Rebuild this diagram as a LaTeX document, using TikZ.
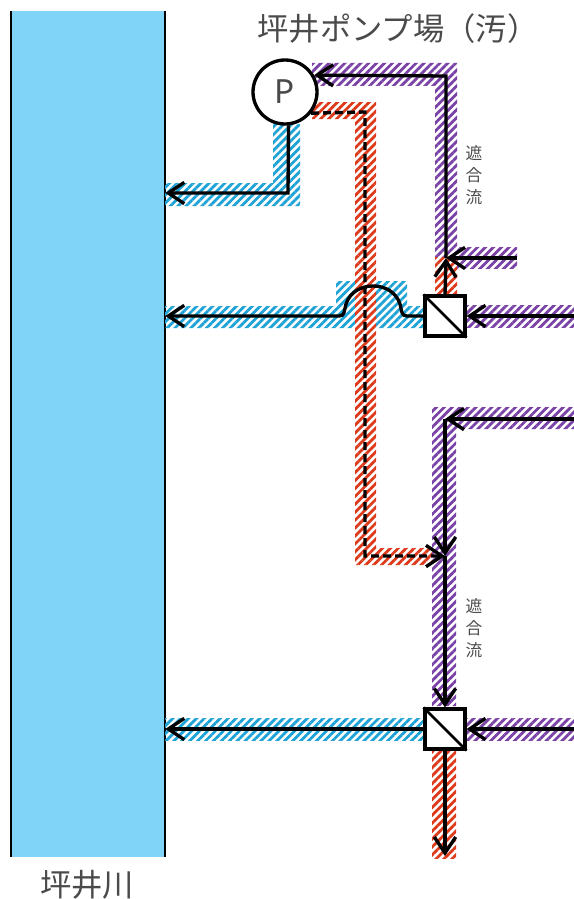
\documentclass[tikz,border=0pt]{standalone}
\usepackage{fontspec}
\setmainfont{Noto Sans}
\newfontfamily\jpfont{Noto Sans CJK JP}
\usetikzlibrary{arrows.meta,positioning,patterns.meta}
\definecolor{riverblue}{HTML}{7FD4F7}
\definecolor{cleanblue}{HTML}{1FA3D6}
\definecolor{sewpurple}{HTML}{7A42A6}
\definecolor{mixred}{HTML}{DD3A1C}
\definecolor{labelgrey}{HTML}{4A4A4A}
\tikzset{
  hatchband/.style={draw=none, pattern={Lines[angle=45,distance=4.2pt,line width=2.1pt]}},
  blueband/.style={hatchband, pattern color=cleanblue},
  purpleband/.style={hatchband, pattern color=sewpurple},
  redband/.style={hatchband, pattern color=mixred},
  pipe/.style={line width=2.5pt, draw=black, line join=miter},
  arr/.style={pipe, -{Straight Barb[length=12pt,width=16pt,line width=2.5pt]}},
  dasharr/.style={arr, dash pattern=on 6pt off 3pt},
  pumpnode/.style={circle, draw, line width=2.5pt, fill=white, minimum size=48pt, inner sep=0pt,
    font=\fontsize{25}{25}\selectfont, text=labelgrey},
  valvebox/.style={rectangle, draw, line width=2.8pt, fill=white, minimum size=29.5pt, inner sep=0pt},
  biglabel/.style={font=\jpfont\fontsize{23.5}{26}\selectfont, text=labelgrey, inner sep=0pt},
  smalllabel/.style={font=\jpfont\fontsize{12.5}{16.3}\selectfont, text=labelgrey, align=center, inner sep=0pt}
}
\begin{document}
\begin{tikzpicture}[x=0.75pt,y=-0.75pt]
    \useasboundingbox (0,0) rectangle (574,899);
    % river
    \node[fill=riverblue, minimum width=115.5pt, minimum height=634.5pt, inner sep=0pt] (river) at (88,434) {};
    \draw[line width=1.2pt] (river.north west) -- (river.south west);
    \draw[line width=1.2pt] (river.north east) -- (river.south east);
    \node[biglabel] (riverlabel) at (87,885) {坪井川};
    \node[biglabel] (pumplabel) at (398,29) {坪井ポンプ場（汚）};
    \node[smalllabel] (goryu1) at (474,175) {遮\\合\\流};
    \node[smalllabel] (goryu2) at (474,628) {遮\\合\\流};
    % hatched bands
    \fill[blueband] (165,183) -- (273,183) -- (273,124) -- (300,124) -- (300,206) -- (165,206) -- cycle;
    \fill[blueband] (165,306) -- (336,306) -- (336,281) -- (407,281) -- (407,306) -- (425,306) -- (425,328) -- (165,328) -- cycle;
    \fill[blueband] (165,718) rectangle (425,740);
    \fill[purpleband] (312,63) -- (457,63) -- (457,257) -- (435,257) -- (435,86) -- (312,86) -- cycle;
    \fill[purpleband] (457,247) rectangle (517,268);
    \fill[purpleband] (467,305) rectangle (574,327);
    \fill[purpleband] (574,407) -- (432,407) -- (432,706) -- (456,706) -- (456,429) -- (574,429) -- cycle;
    \fill[purpleband] (467,718) rectangle (574,740);
    \fill[white] (355,281) rectangle (376,328);
    \fill[redband] (312,102) -- (376,102) -- (376,548) -- (432,548) -- (432,565) -- (355,565) -- (355,119) -- (312,119) -- cycle;
    \fill[redband] (435,257) rectangle (457,296);
    \fill[redband] (432,751) rectangle (456,858);
    % pump and valves
    \node[pumpnode] (pump) at (285,92) {P};
    \node[valvebox] (valvetop) at (445,316) {};
    \node[valvebox] (valvelow) at (445,729) {};
    \draw[line width=2pt] (valvetop.north west) -- (valvetop.south east);
    \draw[line width=2pt] (valvelow.north west) -- (valvelow.south east);
    % free ends
    \coordinate (stub) at (517,258);
    \coordinate (joinup) at (446,258);
    \coordinate (eastA) at (574,316);
    \coordinate (eastB) at (574,419);
    \coordinate (eastC) at (574,729);
    \coordinate (cornerB) at (445,419);
    \coordinate (joinlow) at (445,556);
    \coordinate (drain) at (445,856);
    % connectors
    \draw[arr] (pump.-84) -- (288,193) -- (river.east |- 0,193);
    \draw[arr] (valvetop.west) -- (407,316) .. controls (401,316) and (402,311) .. (400,304)
      .. controls (396,292) and (385,286) .. (373,286) .. controls (361,286) and (350,292) .. (346,304)
      .. controls (344,311) and (345,316) .. (339,316) -- (river.east |- 0,316);
    \draw[arr] (valvelow.west) -- (river.east |- valvelow);
    \draw[arr] (joinup) -- (446,76) -- (pump.30);
    \draw[arr] (stub) -- (joinup);
    \draw[arr] (valvetop.north) -- (joinup);
    \draw[arr] (eastA) -- (valvetop.east);
    \draw[dasharr] (pump.-39) -- (365,112) -- (365,556) -- (joinlow);
    \draw[arr] (eastB) -- (cornerB);
    \draw[arr] (cornerB) -- (joinlow);
    \draw[arr] (joinlow) -- (valvelow.north);
    \draw[arr] (eastC) -- (valvelow.east);
    \draw[arr] (valvelow.south) -- (drain);
  \end{tikzpicture}
\end{document}
